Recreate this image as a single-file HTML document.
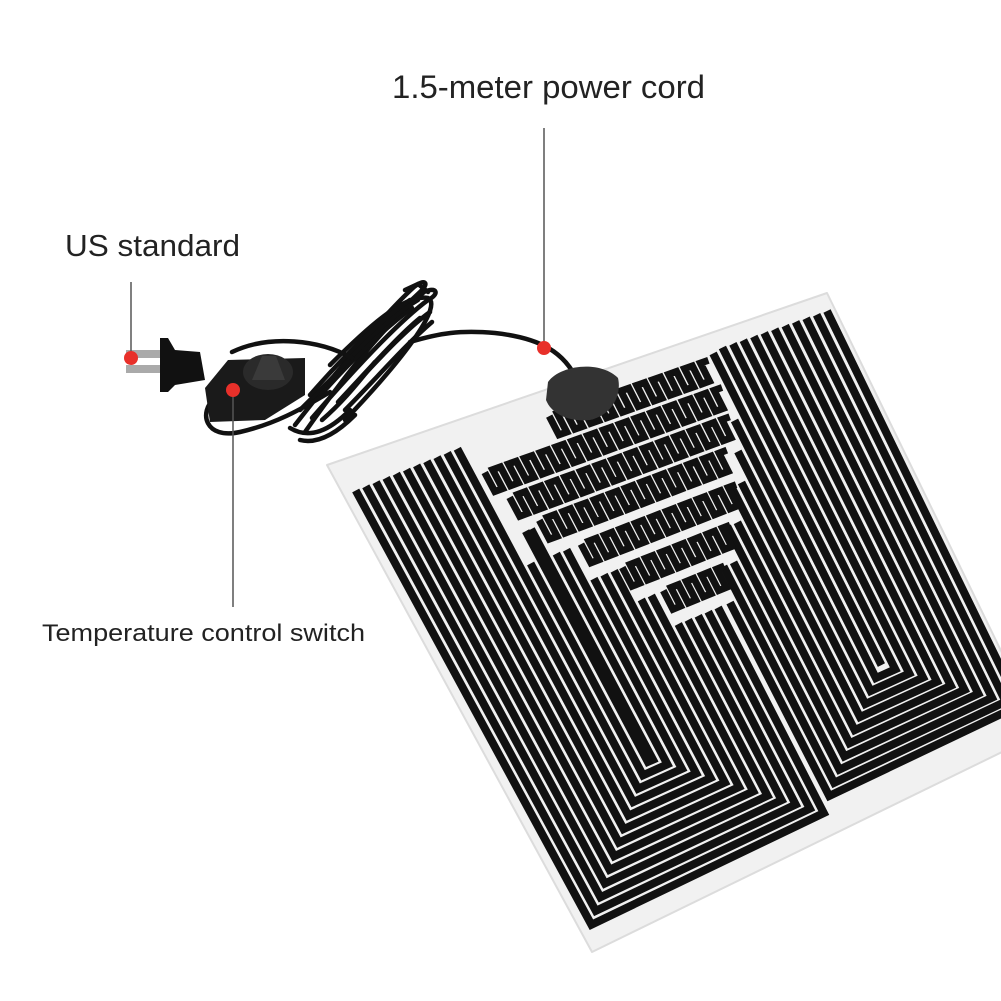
<!DOCTYPE html>
<html><head><meta charset="utf-8"><style>
html,body{margin:0;padding:0;background:#fff}
svg{display:block}
text{font-family:"Liberation Sans",sans-serif;fill:#222}
</style></head><body>
<svg id="s" width="1001" height="1001" viewBox="0 0 1001 1001" xmlns="http://www.w3.org/2000/svg">
<rect width="1001" height="1001" fill="#fff"/>
<polygon points="327,465 827,293 1041,733 592,952" fill="#f1f1f1" stroke="#dcdcdc" stroke-width="2" stroke-linejoin="round"/>
<g id="mat" fill="none" stroke="#111" stroke-width="8"></g>
<!-- cord -->
<g fill="none" stroke="#111" stroke-width="4.5" stroke-linecap="round">
<path d="M578 382 C565 352 540 338 495 333 C460 330 440 333 410 342"/>
<path d="M300 410 C340 370 390 320 420 292 C430 283 425 278 414 287 C378 320 330 380 295 425"/>
<path d="M312 418 C352 372 398 322 428 300 C440 294 437 286 424 292 C384 326 345 375 305 432"/>
<path d="M330 365 C370 325 405 294 428 298 C442 305 410 352 345 420"/>
<path d="M318 398 C350 362 382 330 412 308"/>
<path d="M338 402 C368 370 398 336 420 318"/>
<path d="M350 390 C378 360 405 330 430 312"/>
<path d="M326 385 C356 350 388 318 418 300"/>
<path d="M310 395 C345 355 380 320 410 300"/>
<path d="M345 410 C375 380 405 345 432 322"/>
<path d="M322 420 C345 400 360 380 375 362"/>
<path d="M215 398 C198 412 205 440 240 432 C275 424 300 410 330 392"/>
<path d="M232 352 C270 334 320 340 352 358"/>
<path d="M290 428 C310 440 330 430 350 410"/>
<path d="M300 440 C320 445 340 430 355 415"/>
<path d="M405 290 L418 284 L428 292"/>
</g>
<!-- connector -->
<path d="M548 382 C560 365 600 360 618 378 C622 395 612 415 590 420 C570 422 552 415 546 400 Z" fill="#333"/>
<!-- plug -->
<rect x="126" y="350" width="36" height="8" fill="#aaa"/>
<rect x="126" y="365" width="36" height="8" fill="#aaa"/>
<path d="M160 338 L168 338 L175 350 L200 352 L205 380 L175 385 L168 392 L160 392 Z" fill="#111"/>
<!-- switch -->
<path d="M205 388 L228 360 L305 358 L305 395 L265 420 L210 422 Z" fill="#1a1a1a"/>
<ellipse cx="268" cy="372" rx="25" ry="18" fill="#2a2a2a"/>
<path d="M252 380 L262 356 L276 356 L285 380 Z" fill="#3a3a3a"/>
<!-- leaders -->
<g stroke="#555" stroke-width="1.5">
<line x1="131" y1="282" x2="131" y2="355"/>
<line x1="544" y1="128" x2="544" y2="345"/>
<line x1="233" y1="392" x2="233" y2="607"/>
</g>
<g fill="#e8302a">
<circle cx="131" cy="358" r="7"/>
<circle cx="544" cy="348" r="7"/>
<circle cx="233" cy="390" r="7"/>
</g>
<text x="392" y="98" font-size="32" textLength="313" lengthAdjust="spacingAndGlyphs">1.5-meter power cord</text>
<text x="65" y="256" font-size="31" textLength="175" lengthAdjust="spacingAndGlyphs">US standard</text>
<text x="42" y="641" font-size="24" textLength="323" lengthAdjust="spacingAndGlyphs">Temperature control switch</text>
</svg>
<script>
(function(){
var TL=[327,465],TR=[827,293],BL=[592,952],BR=[1041,733];
function m(u,v){return [
(1-u)*(1-v)*TL[0]+u*(1-v)*TR[0]+(1-u)*v*BL[0]+u*v*BR[0],
(1-u)*(1-v)*TL[1]+u*(1-v)*TR[1]+(1-u)*v*BL[1]+u*v*BR[1]];}
function path(pts){return 'M'+pts.map(function(p){var q=m(p[0],p[1]);return q[0].toFixed(1)+' '+q[1].toFixed(1);}).join(' L');}
var g=document.getElementById('mat'),d=[];
var rows=[[0.05,0.42,0.74],[0.11,0.26,0.73],[0.17,0.28,0.71],[0.23,0.31,0.69],[0.30,0.36,0.65],[0.37,0.41,0.61],[0.44,0.46,0.57]];
var i,L,R,B,top,k,du=0.021,dv=0.019;
for(i=0;i<14;i++){
 L=0.025+i*du;R=0.54-i*du;B=0.955-i*dv;
 if(R-L<0.01)break;
 top=0.05;
 for(k=0;k<rows.length;k++){if(rows[k][1]-0.01<R)top=Math.max(top,rows[k][0]+0.07);}
 d.push(path([[L,L<0.25?0.05+ (0.25-L)*0.05:top],[L,B],[R,B],[R,top]]));
}
for(i=0;i<12;i++){
 L=0.565+i*du;R=0.985-i*du;B=0.93-i*dv;
 if(R-L<-0.001)break;
 top=0.04;
 for(k=0;k<rows.length;k++){if(rows[k][2]+0.01>L)top=Math.max(top,rows[k][0]+0.07);}
 d.push(path([[L,top],[L,B],[R,B],[R,0.035]]));
}
for(k=0;k<rows.length;k++){
 var v=rows[k][0],u=rows[k][1],u1=rows[k][2],p=0.032,a=0.04,pts=[];
 while(u<u1){pts.push([u,v]);pts.push([u,v+a]);pts.push([u+p/2,v+a]);pts.push([u+p/2,v]);u+=p;}
 pts.push([u,v]);
 d.push(path(pts));
}
d.forEach(function(s,j){var e=document.createElementNS('http://www.w3.org/2000/svg','path');e.setAttribute('d',s);if(j>=d.length-rows.length)e.setAttribute('stroke-width','7');g.appendChild(e);});
})();
</script>
</body></html>
